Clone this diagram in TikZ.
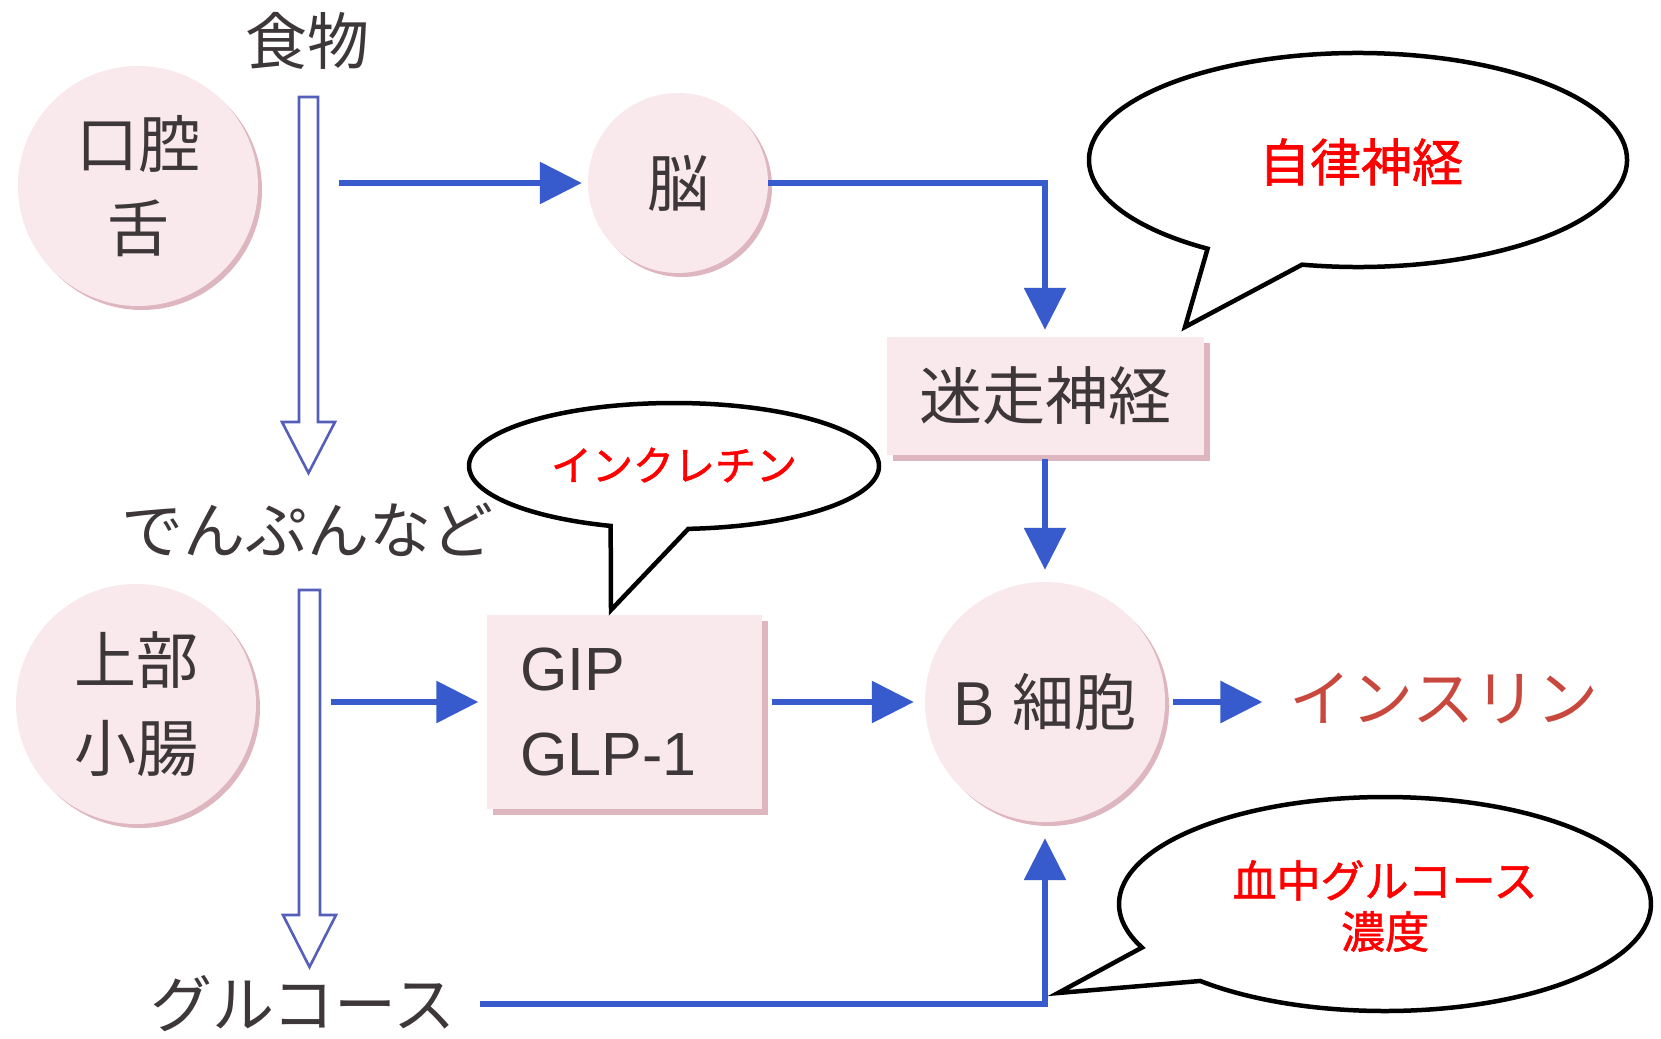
\documentclass[tikz,border=0pt]{standalone}
\usepackage{fontspec}
\setmainfont{Liberation Sans}
\newfontfamily\jp{Noto Sans CJK JP}
\newfontfamily\jpred[FakeBold=1.3]{Noto Sans CJK JP}
\usetikzlibrary{arrows.meta,shadows}
\definecolor{txt}{RGB}{62,55,58}
\definecolor{pinkfill}{RGB}{249,233,236}
\definecolor{pinkshadow}{RGB}{222,182,192}
\definecolor{arrowblue}{RGB}{55,90,205}
\definecolor{hollowblue}{RGB}{85,95,185}
\definecolor{insred}{RGB}{200,72,62}
\definecolor{calloutred}{RGB}{255,0,0}
\begin{document}
\begin{tikzpicture}[x=1pt,y=1pt,
  disc/.style={circle, fill=pinkfill, minimum size=#1, inner sep=0pt, text=txt,
    align=center,
    general shadow={fill=pinkshadow, shadow xshift=4pt, shadow yshift=-4pt}},
  boxnode/.style={rectangle, fill=pinkfill, text=txt,
    general shadow={fill=pinkshadow, shadow xshift=6pt, shadow yshift=-6pt}},
  bigjp/.style={font=\jp\fontsize{62}{84}\selectfont, text=txt, inner sep=0pt},
  barrow/.style={draw=arrowblue, line width=6pt,
    -{Triangle[length=42pt,width=41pt]}, arrowblue},
  hollow/.style={draw=hollowblue, line width=2.6pt, fill=white, line join=miter},
  callout/.style={draw=black, line width=4.5pt, fill=white, line join=miter},
  redtext/.style={text=calloutred, inner sep=0pt, align=center}
]
\useasboundingbox (0,0) rectangle (1661,-1038);
\fill[white] (0,0) rectangle (1661,-1038);

% --- nodes ---
\node[bigjp] (food) at (307,-41) {食物};
\node[disc=240pt, font=\jp\fontsize{62}{84}\selectfont] (mouth) at (138,-186) {口腔\\舌};
\node[disc=180pt, font=\jp\fontsize{62}{84}\selectfont] (brain) at (678,-183) {脳};
\node[boxnode, minimum width=317pt, minimum height=118pt, inner sep=0pt,
      font=\jp\fontsize{63}{84}\selectfont] (vagus) at (1045,-396) {迷走神経};
\node[bigjp] (starch) at (307,-530) {でんぷんなど};
\node[disc=240pt, font=\jp\fontsize{62}{88}\selectfont] (intestine) at (136,-704) {上部\\小腸};
\node[boxnode, minimum height=194pt, text width=207pt, inner xsep=34pt, inner ysep=0pt,
      align=left, font=\fontsize{61}{85}\selectfont] (gip) at (624,-712) {GIP\\GLP-1};
\node[disc=240pt, font=\fontsize{62}{84}\selectfont] (bcell) at (1045,-702) {B {\jp 細胞}};
\node[font=\jp\fontsize{62}{84}\selectfont, text=insred, inner sep=0pt] (insulin) at (1444,-698) {インスリン};
\node[bigjp] (glucose) at (303,-1004) {グルコース};

% --- hollow arrows ---
\draw[hollow] (299,-97) -- (318,-97) -- (318,-422) -- (335,-422) -- (308.5,-473)
  -- (282,-422) -- (299,-422) -- cycle;
\draw[hollow] (299,-590) -- (320,-590) -- (320,-915) -- (336,-915) -- (309.5,-967)
  -- (283,-915) -- (299,-915) -- cycle;

% --- blue connectors ---
\coordinate (mstart) at (339,-183);
\coordinate (istart) at (331,-702);
\draw[barrow, shorten >=6pt] (mstart) -- (mstart -| brain.west);
\draw[barrow, shorten >=7pt] (brain.east) -| (vagus.north);
\draw[barrow, shorten <=4pt, shorten >=12pt] (vagus.south) -- (bcell.north);
\draw[barrow, shorten >=8pt] (istart) -- (istart -| gip.west);
\draw[barrow, shorten <=10pt, shorten >=11pt] (gip.east |- bcell.west) -- (bcell.west);
\draw[barrow, shorten <=8pt, shorten >=27pt] (bcell.east) -- (bcell.east -| insulin.west);
\draw[barrow, shorten <=24pt, shorten >=16pt] (glucose.east) -| (bcell.south);

% --- callouts ---
\draw[callout] (1358,-160) ++(258:269 and 107)
  arc[start angle=258, end angle=596, x radius=269, y radius=107]
  -- (1185,-327) -- cycle;
\node[redtext, font=\jpred\fontsize{51}{60}\selectfont] (autonomic) at (1361,-162) {自律神経};

\draw[callout] (674,-466) ++(274:205 and 63)
  arc[start angle=274, end angle=612, x radius=205, y radius=63]
  -- (611,-610) -- cycle;
\node[redtext, font=\jpred\fontsize{41}{50}\selectfont] (incretin) at (674,-465) {インクレチン};

\draw[callout] (1385,-904) ++(226:266 and 107)
  arc[start angle=226, end angle=564, x radius=266, y radius=107]
  -- (1058,-993) -- cycle;
\node[redtext, font=\jpred\fontsize{44}{51}\selectfont] (bloodglc) at (1385,-906) {血中グルコース\\濃度};
\end{tikzpicture}
\end{document}
